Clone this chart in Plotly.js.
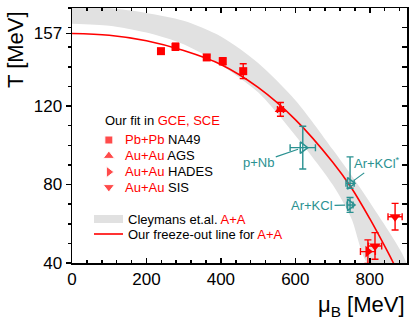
<!DOCTYPE html>
<html>
<head>
<meta charset="utf-8">
<script src="https://cdn.plot.ly/plotly-3.0.1.min.js"></script>
<style>
  html, body { margin: 0; padding: 0; background: #fff; }
  #chart { width: 415px; height: 330px; }
</style>
</head>
<body>
<div id="chart"></div>
<script>
// === datos ===
// Pb+Pb NA49
const na49Mu = [239, 278, 362, 405, 460];
const na49T = [148.0, 150.2, 144.8, 142.9, 137.8];
const na49ErrT = [1.2, 1.8, 1.2, 1.8, 3.8];

// Au+Au AGS
const agsMu = [560];
const agsT = [118.3];
const agsErrT = [3.5];
const agsErrMu = [8];

// Au+Au HADES
const hadesMu = [795];
const hadesT = [45.8];
const hadesErrT = [6];
const hadesErrMu = [20];

// Au+Au SIS
const sisMu = [814, 868];
const sisT = [48.7, 63.6];
const sisErrT = [6.8, 6.8];
const sisErrMu = [18, 19];

// sistemas pequenos (teal)
const smallLabels = ['p+Nb', 'Ar+KCl<sup>*</sup>', 'Ar+KCl'];
const smallMu = [620, 747, 747];
const smallT = [98.8, 80.6, 69.6];
const smallErrTUp = [10.9, 13.5, 3.8];
const smallErrTDown = [10.9, 2.5, 3.8];
const smallErrMu = [34, 11, 8];

// banda de Cleymans et.al.
const bandMuUp = [0, 100, 200, 300, 400, 500, 600, 700, 800, 900];
const bandTUp = [171, 170, 167.5, 163.5, 155.5, 142, 123, 98, 71, 37];
const bandMuLo = [0, 100, 200, 300, 400, 500, 600, 700, 750, 800];
const bandTLo = [162, 161, 157.5, 151.5, 141, 127, 105, 80, 63, 38.5];

// linea de freeze-out
const lineMu = [0, 100, 200, 300, 400, 500, 600, 700, 750, 800, 850, 870];
const lineT = [157, 156.1, 153.3, 148.3, 141.2, 129.5, 113.1, 91.5, 78.5, 62.6, 45, 37.5];

// ejes
const yTickVals = [40, 80, 120, 157];
const xRange = [0, 900];
const yRange = [40, 170];

const RED = '#ff0000';
const TEAL = '#2a9191';
const FONT = 'Liberation Sans, Arial, sans-serif';

const traces = [];

// banda gris
traces.push({
  x: bandMuUp.concat(bandMuLo.slice().reverse()),
  y: bandTUp.concat(bandTLo.slice().reverse()),
  mode: 'lines',
  fill: 'toself',
  fillcolor: '#e1e1e1',
  line: { width: 0, shape: 'spline', smoothing: 0.8 },
  hoverinfo: 'skip'
});

// linea roja
traces.push({
  x: lineMu, y: lineT,
  mode: 'lines',
  line: { color: RED, width: 1.6, shape: 'spline' }
});

const errRed = (arr) => ({ type: 'data', array: arr, color: RED, thickness: 1.4, width: 3.5 });

traces.push({
  x: na49Mu, y: na49T, mode: 'markers',
  marker: { symbol: 'square', size: 8, color: RED },
  error_y: errRed(na49ErrT)
});
traces.push({
  x: agsMu, y: agsT, mode: 'markers',
  marker: { symbol: 'triangle-up', size: 10, color: RED },
  error_y: errRed(agsErrT), error_x: errRed(agsErrMu)
});
traces.push({
  x: hadesMu, y: hadesT, mode: 'markers',
  marker: { symbol: 'triangle-right', size: 10, color: RED },
  error_y: errRed(hadesErrT), error_x: errRed(hadesErrMu)
});
traces.push({
  x: sisMu, y: sisT, mode: 'markers',
  marker: { symbol: 'triangle-down', size: 10, color: RED },
  error_y: errRed(sisErrT), error_x: errRed(sisErrMu)
});

// teal
traces.push({
  x: smallMu, y: smallT, mode: 'markers',
  marker: { symbol: 'triangle-right-open', size: 10, color: TEAL, line: { width: 1.5 } },
  error_y: { type: 'data', symmetric: false, array: smallErrTUp, arrayminus: smallErrTDown, color: TEAL, thickness: 1.4, width: 3.5 },
  error_x: { type: 'data', array: smallErrMu, color: TEAL, thickness: 1.4, width: 3.5 }
});

// claves de la leyenda (en el eje y2, mismo rango)
const legMu = [99, 99, 99, 99];
const legT = [102.7, 94.6, 86.4, 78.7];
traces.push({
  x: legMu, y: legT, yaxis: 'y2', mode: 'markers',
  marker: { symbol: ['square', 'triangle-up', 'triangle-right', 'triangle-down'], size: [8, 10, 10, 10], color: RED },
  cliponaxis: false, hoverinfo: 'skip'
});

// === anotaciones ===
const px = (p) => (p - 72) / 335;
const py = (p) => (263 - p) / 255;
const red = (s) => `<span style="color:${RED}">${s}</span>`;

const legendRows = [
  { t: 'Our fit in ' + red('GCE, SCE'), x: 103, y: 120 },
  { t: red('Pb+Pb') + ' NA49', x: 123, y: 140 },
  { t: red('Au+Au') + ' AGS', x: 123, y: 156 },
  { t: red('Au+Au') + ' HADES', x: 123, y: 172 },
  { t: red('Au+Au') + ' SIS', x: 123, y: 187 },
  { t: 'Cleymans et.al. ' + red('A+A'), x: 126, y: 219 },
  { t: 'Our freeze-out line for ' + red('A+A'), x: 126, y: 234 }
];

const annotations = legendRows.map(r => ({
  xref: 'paper', yref: 'paper', x: px(r.x), y: py(r.y),
  xanchor: 'left', yanchor: 'middle', showarrow: false,
  text: r.t, font: { family: FONT, size: 13, color: '#000' }
}));

// etiquetas teal con linea
const labelOffsets = [[-44, 15], [27, -20], [-38, 1]];
smallLabels.forEach((lab, i) => {
  annotations.push({
    x: smallMu[i], y: smallT[i], xref: 'x', yref: 'y',
    text: lab, showarrow: true, arrowhead: 0, arrowwidth: 1.2, arrowcolor: TEAL,
    ax: labelOffsets[i][0], ay: labelOffsets[i][1], standoff: 5,
    font: { family: FONT, size: 13, color: TEAL }
  });
});

// titulos de ejes
annotations.push({
  xref: 'paper', yref: 'paper', x: px(16), y: py(50), textangle: -90,
  xanchor: 'center', yanchor: 'middle',
  showarrow: false, text: 'T [MeV]', font: { family: FONT, size: 22, color: '#000' }
});
annotations.push({
  xref: 'paper', yref: 'paper', x: 1, y: py(306), xanchor: 'right', yanchor: 'middle',
  showarrow: false, text: 'μ<sub>B</sub> [MeV]', font: { family: FONT, size: 22, color: '#000' }
});

const layout = {
  width: 415, height: 330,
  margin: { l: 72, r: 8, t: 8, b: 67 },
  showlegend: false,
  plot_bgcolor: '#fff', paper_bgcolor: '#fff',
  font: { family: FONT, size: 17, color: '#000' },
  xaxis: {
    range: xRange, tickmode: 'linear', tick0: 0, dtick: 200,
    ticks: 'inside', ticklen: 5, tickwidth: 1.5, tickcolor: '#000',
    minor: { tick0: 0, dtick: 40, ticks: 'inside', ticklen: 3, tickwidth: 1.5, tickcolor: '#000' },
    showline: true, linewidth: 1.5, linecolor: '#000', mirror: 'ticks',
    showgrid: false, zeroline: false,
    tickfont: { family: FONT, size: 17 }
  },
  yaxis: {
    range: yRange, tickmode: 'array', tickvals: yTickVals,
    ticks: 'outside', ticklen: 5, tickwidth: 1.5, tickcolor: '#000',
    minor: { tickmode: 'linear', tick0: 40, dtick: 10, ticks: 'outside', ticklen: 3, tickwidth: 1.5, tickcolor: '#000' },
    showline: true, linewidth: 1.5, linecolor: '#000', mirror: true,
    showgrid: false, zeroline: false,
    tickfont: { family: FONT, size: 17 }
  },
  yaxis2: {
    range: yRange, overlaying: 'y', side: 'right', anchor: 'x',
    tickmode: 'linear', tick0: 40, dtick: 10,
    ticks: 'inside', ticklen: 5, tickwidth: 1.5, tickcolor: '#000',
    showticklabels: false, showline: true, linewidth: 1.5, linecolor: '#000',
    showgrid: false, zeroline: false
  },
  shapes: [
    { type: 'rect', xref: 'paper', yref: 'paper', x0: px(94), x1: px(123), y0: py(223), y1: py(215),
      fillcolor: '#e1e1e1', line: { width: 0 } },
    { type: 'line', xref: 'paper', yref: 'paper', x0: px(94), x1: px(123), y0: py(234), y1: py(234),
      line: { color: RED, width: 1.6 } }
  ],
  annotations: annotations
};

Plotly.newPlot('chart', traces, layout, { staticPlot: true });
</script>
</body>
</html>
